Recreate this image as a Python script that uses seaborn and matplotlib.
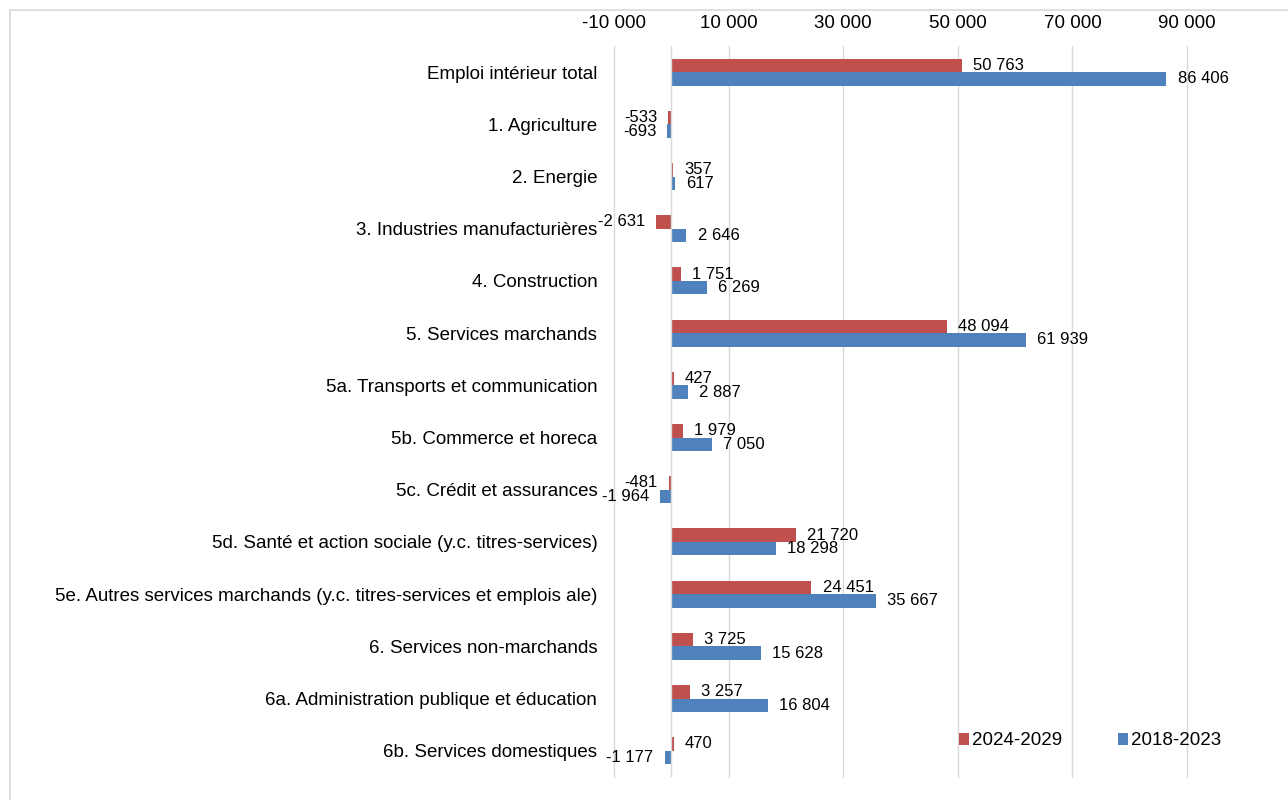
import matplotlib
matplotlib.use("Agg")
import matplotlib.pyplot as plt
import matplotlib.patches as mpatches
import pandas as pd
import seaborn as sns

# données
categories = [
    "Emploi intérieur total",
    "1. Agriculture",
    "2. Energie",
    "3. Industries manufacturières",
    "4. Construction",
    "5. Services marchands",
    "5a. Transports et communication",
    "5b. Commerce et horeca",
    "5c. Crédit et assurances",
    "5d. Santé et action sociale (y.c. titres-services)",
    "5e. Autres services marchands (y.c. titres-services et emplois ale)",
    "6. Services non-marchands",
    "6a. Administration publique et éducation",
    "6b. Services domestiques",
]
periods = ["2024-2029", "2018-2023"]
val_2024_2029 = [50763, -533, 357, -2631, 1751, 48094, 427, 1979, -481, 21720, 24451, 3725, 3257, 470]
val_2018_2023 = [86406, -693, 617, 2646, 6269, 61939, 2887, 7050, -1964, 18298, 35667, 15628, 16804, -1177]
x_ticks = [-10000, 10000, 30000, 50000, 70000, 90000]

df = pd.DataFrame({
    "categorie": categories * 2,
    "periode": [periods[0]] * len(categories) + [periods[1]] * len(categories),
    "valeur": val_2024_2029 + val_2018_2023,
})

sns.set_style("white")
plt.rcParams["font.family"] = ["Liberation Sans", "DejaVu Sans"]
plt.rcParams["text.color"] = "black"
plt.rcParams["xtick.color"] = "black"
plt.rcParams["ytick.color"] = "black"

fig = plt.figure(figsize=(12.88, 8), dpi=100)
ax = fig.add_axes([0.4767, 0.029, 0.4449, 0.9135])

# cadre gris autour du graphique
fig.patches.append(mpatches.Rectangle((10 / 1288, -0.1), 1.2, 1.0875,
                                      transform=fig.transFigure, fill=False,
                                      edgecolor="#d9d9d9", linewidth=1.2, zorder=0))

sns.barplot(data=df, y="categorie", x="valeur", hue="periode",
            hue_order=periods, order=categories, orient="h",
            palette=["#C0504D", "#4F81BD"], saturation=1, width=0.52,
            linewidth=0, ax=ax)

fmt = lambda v: f"{int(v):,}".replace(",", " ")
for cont in ax.containers:
    ax.bar_label(cont, labels=[fmt(b.get_width()) for b in cont],
                 padding=8, fontsize=12, color="black")

ax.set_xlim(-10000, 90000)
ax.set_xticks(x_ticks)
ax.set_xticklabels([fmt(t) for t in x_ticks])
ax.xaxis.tick_top()
ax.tick_params(axis="x", length=0, pad=10, labelsize=13.5)
ax.tick_params(axis="y", length=0, pad=12, labelsize=13.5)
ax.grid(axis="x", color="#d9d9d9", linewidth=1)
for gl in ax.get_xgridlines():
    gl.set_clip_on(False)
ax.axvline(0, color="#d9d9d9", linewidth=1)
ax.set_axisbelow(True)
for s in ax.spines.values():
    s.set_visible(False)
ax.set_xlabel("")
ax.set_ylabel("")

ax.legend(loc="center right", bbox_to_anchor=(1.06, 0.049), ncol=2, frameon=False,
          fontsize=13.5, handlelength=0.55, handleheight=0.55, handletextpad=0.15,
          columnspacing=3.0, borderpad=0, borderaxespad=0)

fig.savefig("out.png", dpi=100)
